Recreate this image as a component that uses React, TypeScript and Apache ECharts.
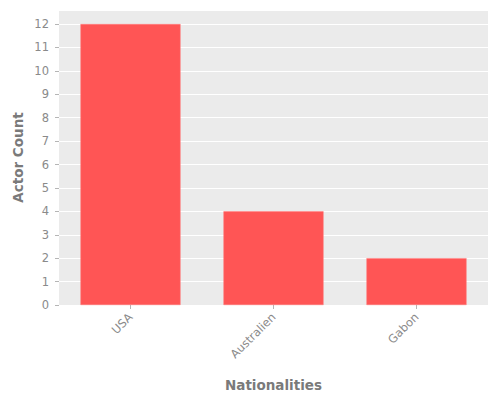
import React, { useEffect, useRef } from "react";
import * as echarts from "echarts";

const categories = ["USA", "Australien", "Gabon"];
const actorCounts = [12, 4, 2];

export default function App() {
  const ref = useRef<HTMLDivElement>(null);
  useEffect(() => {
    document.body.style.margin = "0";
    const chart = echarts.init(ref.current!, null, { renderer: "svg" });
    const grey = "#8a8a8a";
    const titleGrey = "#7a7a7a";
    chart.setOption({
      animation: false,
      backgroundColor: "#ffffff",
      textStyle: { fontFamily: "DejaVu Sans" },
      grid: {
        left: 59,
        right: 12,
        top: 10,
        bottom: 95,
        show: true,
        backgroundColor: "#EBEBEB",
        borderWidth: 0,
      },
      xAxis: {
        type: "category",
        data: categories,
        name: "Nationalities",
        nameLocation: "middle",
        nameGap: 73,
        nameTextStyle: { color: titleGrey, fontSize: 13.5, fontWeight: "bold", fontFamily: "DejaVu Sans" },
        axisLine: { show: false },
        axisTick: { show: true, alignWithLabel: true, length: 4, lineStyle: { color: "#b5b5b5" } },
        axisLabel: { rotate: 45, color: grey, fontSize: 11.5, margin: 10, fontFamily: "DejaVu Sans" },
        splitLine: { show: false },
      },
      yAxis: {
        type: "value",
        min: 0,
        max: 12.6,
        interval: 1,
        name: "Actor Count",
        nameLocation: "middle",
        nameGap: 34,
        nameMoveOverlap: false,
        nameTextStyle: { color: titleGrey, fontSize: 13.5, fontWeight: "bold", fontFamily: "DejaVu Sans" },
        axisLine: { show: false },
        axisTick: { show: true, length: 4, lineStyle: { color: "#b5b5b5" } },
        axisLabel: { color: grey, fontSize: 11.5, margin: 10, showMaxLabel: false, fontFamily: "DejaVu Sans" },
        splitLine: { show: true, lineStyle: { color: "#ffffff", width: 1 } },
      },
      series: [
        {
          type: "bar",
          data: actorCounts,
          barWidth: "70%",
          itemStyle: { color: "#FF5555", borderColor: "#FF7a7a", borderWidth: 0.5 },
        },
      ],
    });
    return () => chart.dispose();
  }, []);
  return <div ref={ref} style={{ width: 500, height: 400 }} />;
}
